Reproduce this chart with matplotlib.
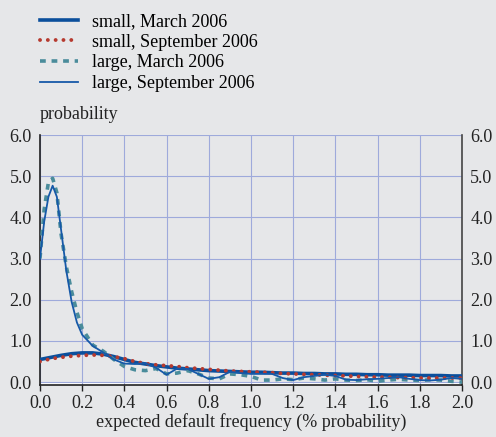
import matplotlib
matplotlib.use("Agg")
import matplotlib.pyplot as plt
from matplotlib.lines import Line2D

plt.rcParams['font.family'] = ['Liberation Serif', 'DejaVu Serif']

x = [0, 0.02, 0.04, 0.06, 0.08, 0.10, 0.125, 0.15, 0.175, 0.20, 0.25, 0.30, 0.35, 0.40,
     0.45, 0.50, 0.55, 0.60, 0.65, 0.70, 0.75, 0.80, 0.85, 0.90, 0.95, 1.00, 1.05, 1.10,
     1.15, 1.20, 1.25, 1.30, 1.35, 1.40, 1.45, 1.50, 1.55, 1.60, 1.65, 1.70, 1.75, 1.80,
     1.85, 1.90, 1.95, 2.00]

small_march = [0.55, 0.57, 0.59, 0.61, 0.63, 0.65, 0.67, 0.69, 0.70, 0.71, 0.71, 0.68, 0.62, 0.55,
               0.48, 0.44, 0.40, 0.37, 0.34, 0.32, 0.30, 0.28, 0.27, 0.26, 0.25, 0.24, 0.24, 0.23,
               0.22, 0.22, 0.21, 0.21, 0.20, 0.20, 0.19, 0.19, 0.18, 0.18, 0.17, 0.17, 0.17, 0.16,
               0.16, 0.16, 0.15, 0.15]
small_sept = [0.50, 0.53, 0.55, 0.57, 0.59, 0.60, 0.62, 0.63, 0.64, 0.65, 0.66, 0.65, 0.62, 0.57,
              0.50, 0.45, 0.42, 0.40, 0.38, 0.35, 0.33, 0.31, 0.29, 0.27, 0.26, 0.25, 0.24, 0.23,
              0.21, 0.20, 0.19, 0.18, 0.17, 0.16, 0.15, 0.14, 0.13, 0.12, 0.12, 0.11, 0.11, 0.10,
              0.10, 0.10, 0.10, 0.10]
large_march = [3.0, 4.2, 4.85, 4.95, 4.6, 3.6, 2.8, 2.2, 1.7, 1.3, 0.9, 0.75, 0.55, 0.38,
               0.30, 0.28, 0.33, 0.20, 0.22, 0.28, 0.20, 0.10, 0.08, 0.20, 0.18, 0.14, 0.05, 0.05,
               0.08, 0.06, 0.10, 0.08, 0.05, 0.08, 0.05, 0.04, 0.06, 0.02, 0.05, 0.07, 0.05, 0.04,
               0.06, 0.05, 0.02, 0.0]
large_sept = [3.0, 3.9, 4.5, 4.77, 4.5, 3.7, 2.7, 1.95, 1.45, 1.15, 0.88, 0.72, 0.55, 0.45,
              0.44, 0.46, 0.35, 0.18, 0.33, 0.32, 0.20, 0.08, 0.12, 0.25, 0.22, 0.20, 0.20, 0.20,
              0.10, 0.05, 0.12, 0.15, 0.18, 0.15, 0.06, 0.05, 0.07, 0.08, 0.10, 0.12, 0.08, 0.05,
              0.04, 0.06, 0.10, 0.08]

labels = ["small, March 2006", "small, September 2006", "large, March 2006", "large, September 2006"]
xticks = [0.0, 0.2, 0.4, 0.6, 0.8, 1.0, 1.2, 1.4, 1.6, 1.8, 2.0]
yticks = [0.0, 1.0, 2.0, 3.0, 4.0, 5.0, 6.0]

bg = '#e6e7e9'
c_thick = '#0b4f9c'
c_red = '#b63a2f'
c_teal = '#4a8c9b'
c_thin = '#1659a8'
grid_c = '#9eaadb'
txt = '#222222'
FS = 13
dot_style = (0, (0.01, 2.0))

fig = plt.figure(figsize=(4.96, 4.37), dpi=100, facecolor=bg)
ax = fig.add_axes([0.0806, 0.118, 0.8508, 0.573], facecolor=bg)

ax.axhspan(-0.08, 0, color='white', lw=0, zorder=0.5)
ax.plot(x, small_march, color=c_thick, lw=2.6, solid_capstyle='butt', zorder=3)
ax.plot(x, small_sept, color=c_red, lw=2.8, linestyle=dot_style, dash_capstyle='round', zorder=4)
ax.plot(x, large_march, color=c_teal, lw=2.6, linestyle=(0, (1.6, 1.6)), zorder=3)
ax.plot(x, large_sept, color=c_thin, lw=1.3, zorder=5)

ax.set_xlim(0, 2.0)
ax.set_ylim(-0.08, 6.0)
ax.set_xticks(xticks)
ax.set_xticklabels([f"{t:.1f}" for t in xticks], fontsize=FS, color=txt)
ax.set_yticks(yticks)
ax.set_yticklabels([f"{t:.1f}" for t in yticks], fontsize=FS, color=txt)
ax.tick_params(axis='y', length=0, pad=6, labelright=True, labelleft=True)
ax.tick_params(axis='x', length=4, width=1, direction='out', pad=3, color=txt)
ax.grid(True, color=grid_c, lw=0.8)
ax.set_axisbelow(True)
ax.spines['top'].set_visible(False)
ax.spines['left'].set_color(txt)
ax.spines['right'].set_color('#444444')
ax.spines['bottom'].set_color(txt)
ax.spines['left'].set_linewidth(1.2)
ax.spines['right'].set_linewidth(1.2)
ax.spines['bottom'].set_linewidth(1.2)

ax.set_xlabel("expected default frequency (% probability)", fontsize=FS, color=txt, labelpad=1)
fig.text(0.0806, 0.718, "probability", fontsize=FS, color=txt, ha='left', va='bottom')

handles = [
    Line2D([], [], color=c_thick, lw=2.6),
    Line2D([], [], color=c_red, lw=2.8, linestyle=dot_style, dash_capstyle='round'),
    Line2D([], [], color=c_teal, lw=2.6, linestyle=(0, (1.6, 1.6))),
    Line2D([], [], color=c_thin, lw=1.3),
]
fig.legend(handles, labels, loc='upper left', bbox_to_anchor=(0.08, 0.97), frameon=False,
           fontsize=FS, handlelength=2.1, handletextpad=0.8, labelspacing=0.2,
           borderaxespad=0, borderpad=0.0)

fig.savefig("out.png", dpi=100, facecolor=bg)
